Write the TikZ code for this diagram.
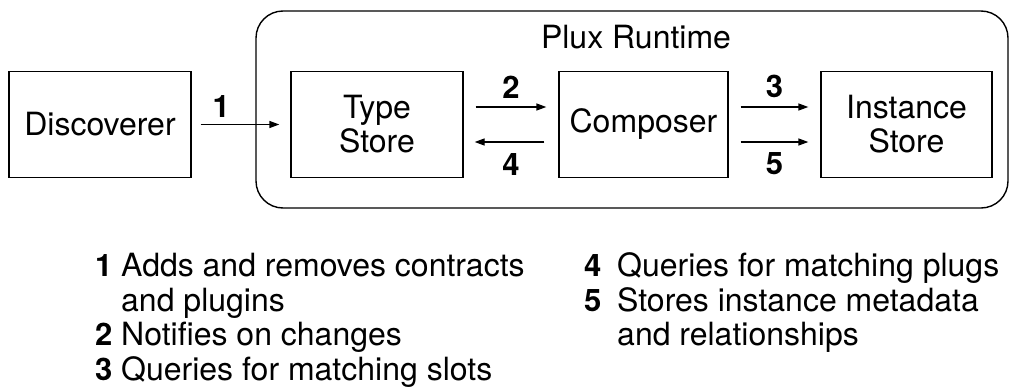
\documentclass[tikz,border=0pt]{standalone}
\usepackage{fontspec}
\setmainfont{TeX Gyre Heros}
\usetikzlibrary{arrows.meta}

\begin{document}
\begin{tikzpicture}[x=1pt,y=-1pt,
  every node/.style={font=\fontsize{32}{34}\selectfont},
  block/.style={draw, line width=1.3pt, minimum width=#1, minimum height=106pt,
    inner sep=0pt, align=center},
  group/.style={draw, line width=1.4pt, rounded corners=27pt, inner sep=0pt},
  flow/.style={line width=1.3pt, -{Triangle[length=10pt,width=7pt]},
    shorten <=12pt, shorten >=12pt},
  steplbl/.style={font=\fontsize{31}{34}\selectfont\bfseries, inner sep=0pt},
  legnum/.style={font=\fontsize{31}{34}\selectfont\bfseries, anchor=base west, inner sep=0pt},
  legtxt/.style={anchor=base west, inner sep=0pt}]
\useasboundingbox (0,0) rectangle (1011,388);

% runtime container
\node[group, minimum width=752pt, minimum height=197pt] (runtime) at (632,109.5) {};
\node[inner sep=0pt] (title) at (636,37) {Plux Runtime};

% components
\node[block=182pt] (disc)  at (100,124.5)   {Discoverer};
\node[block=172pt] (types) at (377,124.5)   {Type\\Store};
\node[block=169pt] (comp)  at (643.5,124.5) {Composer};
\node[block=171pt] (inst)  at (906.5,124.5) {Instance\\Store};

% interactions
\draw[flow, shorten <=9pt, shorten >=11pt] (disc.east) -- (types.west)
  node[steplbl, pos=0.3, above=6pt] {1};
\draw[flow] ([yshift=17.5pt]types.east) -- ([yshift=17.5pt]comp.west)
  node[steplbl, midway, above=8pt] {2};
\draw[flow, shorten <=14pt, shorten >=11pt] ([yshift=-17.5pt]comp.west) -- ([yshift=-17.5pt]types.east)
  node[steplbl, midway, below=11pt] {4};
\draw[flow] ([yshift=17.5pt]comp.east) -- ([yshift=17.5pt]inst.west)
  node[steplbl, midway, above=9pt] {3};
\draw[flow] ([yshift=-17.5pt]comp.east) -- ([yshift=-17.5pt]inst.west)
  node[steplbl, midway, below=10pt] {5};

% legend, left column
\node[legnum] (n1) at (95,276) {1};
\node[legtxt] (t1a) at (121,276) {Adds and removes contracts};
\node[legtxt] (t1b) at (121,311) {and plugins};
\node[legnum] (n2) at (95,345) {2};
\node[legtxt] (t2) at (121,345) {Notifies on changes};
\node[legnum] (n3) at (95,380) {3};
\node[legtxt] (t3) at (121,380) {Queries for matching slots};

% legend, right column
\node[legnum] (n4) at (584,276) {4};
\node[legtxt] (t4) at (617,276) {Queries for matching plugs};
\node[legnum] (n5) at (584,311) {5};
\node[legtxt] (t5a) at (617,311) {Stores instance metadata};
\node[legtxt] (t5b) at (617,345) {and relationships};
\end{tikzpicture}
\end{document}
